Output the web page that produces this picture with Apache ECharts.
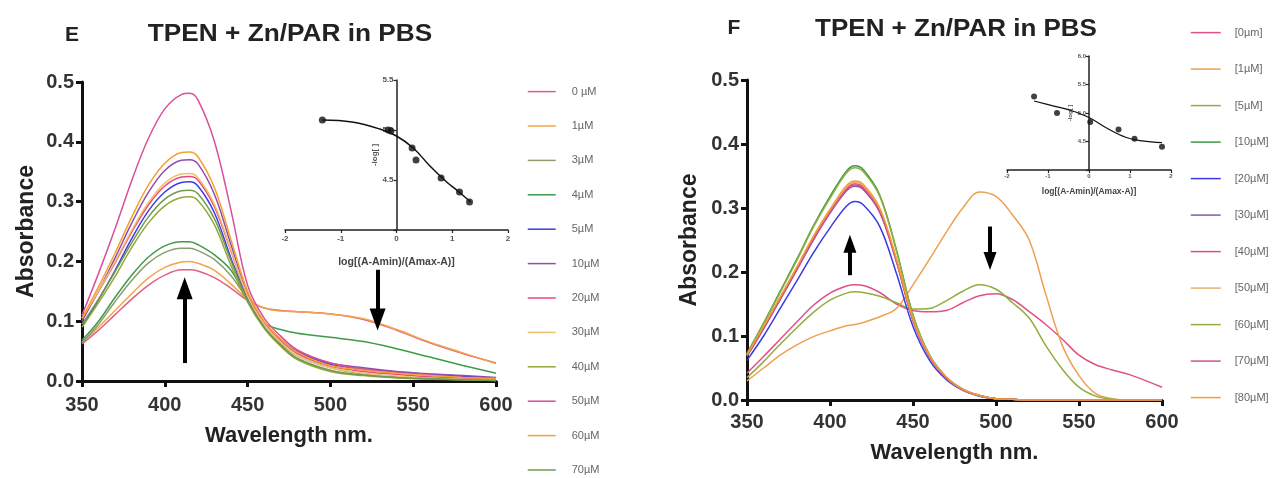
<!DOCTYPE html>
<html>
<head>
<meta charset="utf-8">
<script src="https://cdn.jsdelivr.net/npm/echarts@6/dist/echarts.min.js"></script>
<style>
  html, body { margin: 0; padding: 0; background: #fff; }
  #chart { width: 1284px; height: 478px; }
</style>
</head>
<body>
<div id="chart"></div>
<script>
// ---------------- DATA ----------------
// Panel E (left)
const L_WL = [350,360,370,380,390,400,410,415,420,430,440,450,460,470,480,500,520,540,560,580,600];
const L_NAMES = ['0 µM','1µM','3µM','4µM','5µM','10µM','20µM','30µM','40µM','50µM','60µM','70µM'];
const L_0  = [0.062,0.085,0.111,0.137,0.160,0.177,0.186,0.186,0.184,0.173,0.155,0.135,0.122,0.118,0.116,0.112,0.103,0.085,0.064,0.046,0.030];
const L_1  = [0.065,0.090,0.118,0.146,0.172,0.190,0.199,0.200,0.197,0.185,0.162,0.137,0.122,0.117,0.116,0.112,0.104,0.086,0.065,0.047,0.029];
const L_3  = [0.064,0.095,0.133,0.168,0.197,0.215,0.222,0.222,0.218,0.203,0.176,0.135,0.090,0.062,0.042,0.022,0.012,0.007,0.004,0.002,0.001];
const L_4  = [0.068,0.100,0.140,0.177,0.207,0.226,0.233,0.233,0.228,0.211,0.185,0.136,0.097,0.086,0.080,0.073,0.066,0.054,0.040,0.026,0.013];
const L_5  = [0.090,0.136,0.185,0.238,0.284,0.316,0.332,0.333,0.326,0.281,0.205,0.138,0.095,0.068,0.048,0.028,0.020,0.015,0.011,0.008,0.005];
const L_10 = [0.100,0.151,0.206,0.264,0.315,0.352,0.369,0.370,0.363,0.312,0.228,0.145,0.098,0.070,0.050,0.030,0.022,0.016,0.012,0.009,0.006];
const L_20 = [0.105,0.150,0.198,0.249,0.294,0.326,0.341,0.342,0.336,0.291,0.217,0.142,0.097,0.068,0.046,0.025,0.016,0.011,0.007,0.005,0.003];
const L_30 = [0.105,0.151,0.200,0.252,0.298,0.331,0.346,0.347,0.340,0.295,0.219,0.142,0.095,0.065,0.042,0.022,0.013,0.008,0.005,0.003,0.002];
const L_40 = [0.090,0.131,0.175,0.223,0.264,0.293,0.307,0.308,0.302,0.261,0.193,0.132,0.088,0.058,0.036,0.016,0.009,0.005,0.003,0.002,0.001];
const L_50 = [0.110,0.180,0.255,0.335,0.405,0.455,0.479,0.481,0.470,0.400,0.285,0.160,0.105,0.075,0.052,0.030,0.020,0.014,0.010,0.006,0.004];
const L_60 = [0.105,0.158,0.214,0.274,0.327,0.364,0.382,0.383,0.375,0.323,0.236,0.150,0.100,0.070,0.048,0.026,0.018,0.013,0.009,0.006,0.004];
const L_70 = [0.095,0.137,0.183,0.231,0.274,0.304,0.318,0.319,0.313,0.271,0.201,0.135,0.090,0.060,0.038,0.018,0.010,0.006,0.004,0.002,0.001];
const L_COLORS = ['#e0607f','#f2a54a','#8c9c6c','#3f9a4a','#3c3ce6','#8a4fb0','#e84a78','#f0c070','#92a83a','#d8509c','#f5a030','#6f9a50'];
const L_INSET_X = [-1.33,-0.15,-0.10,0.28,0.35,0.80,1.13,1.31];
const L_INSET_Y = [5.10,5.00,4.99,4.82,4.70,4.52,4.38,4.28];
const L_FIT_X = [-1.33,-0.8,-0.3,0,0.3,0.6,0.9,1.1,1.33];
const L_FIT_Y = [5.10,5.08,5.01,4.94,4.82,4.64,4.48,4.39,4.28];
const L_ARROWS = [[412,0.03,0.155],[528.5,0.186,0.103]];

// Panel F (right)
const R_WL = [350,360,370,380,390,400,410,415,420,430,440,450,460,470,480,490,500,510,520,530,540,550,560,570,580,600];
const R_NAMES = ['[0µm]','[1µM]','[5µM]','[10µM]','[20µM]','[30µM]','[40µM]','[50µM]','[60µM]','[70µM]','[80µM]'];
const R_0  = [0.042,0.068,0.095,0.122,0.148,0.167,0.178,0.180,0.179,0.168,0.150,0.140,0.138,0.140,0.152,0.163,0.166,0.157,0.138,0.118,0.095,0.070,0.055,0.047,0.040,0.020];
const R_1  = [0.030,0.050,0.070,0.086,0.099,0.108,0.116,0.118,0.121,0.130,0.143,0.180,0.220,0.262,0.300,0.325,0.318,0.289,0.250,0.165,0.085,0.038,0.010,0.002,0,0];
const R_5  = [0.035,0.060,0.087,0.113,0.137,0.156,0.167,0.169,0.168,0.162,0.152,0.142,0.143,0.155,0.170,0.180,0.173,0.152,0.128,0.085,0.048,0.020,0.006,0.001,0,0];
const R_10 = [0.073,0.120,0.170,0.220,0.272,0.318,0.358,0.366,0.360,0.320,0.235,0.133,0.070,0.036,0.017,0.007,0.002,0.001,0,0,0,0,0,0,0,0];
const R_20 = [0.062,0.100,0.143,0.186,0.230,0.269,0.303,0.310,0.305,0.271,0.198,0.115,0.062,0.032,0.015,0.006,0.002,0.001,0,0,0,0,0,0,0,0];
const R_30 = [0.068,0.111,0.157,0.203,0.250,0.292,0.327,0.334,0.329,0.293,0.216,0.124,0.067,0.035,0.016,0.007,0.002,0.001,0,0,0,0,0,0,0,0];
const R_40 = [0.070,0.113,0.159,0.205,0.252,0.294,0.331,0.338,0.333,0.296,0.218,0.125,0.068,0.035,0.016,0.007,0.002,0.001,0,0,0,0,0,0,0,0];
const R_50 = [0.071,0.114,0.160,0.206,0.254,0.296,0.333,0.340,0.335,0.298,0.219,0.126,0.068,0.035,0.016,0.007,0.002,0.001,0,0,0,0,0,0,0,0];
const R_60 = [0.072,0.119,0.168,0.218,0.270,0.315,0.355,0.363,0.357,0.318,0.233,0.132,0.070,0.036,0.017,0.007,0.002,0.001,0,0,0,0,0,0,0,0];
const R_70 = [0.069,0.112,0.158,0.204,0.251,0.293,0.329,0.336,0.331,0.294,0.217,0.125,0.067,0.035,0.016,0.007,0.002,0.001,0,0,0,0,0,0,0,0];
const R_80 = [0.071,0.115,0.161,0.208,0.256,0.298,0.335,0.342,0.337,0.300,0.221,0.127,0.069,0.036,0.017,0.007,0.002,0.001,0,0,0,0,0,0,0,0];
const R_COLORS = ['#e0508a','#eea050','#8fae3c','#3c9a48','#3a3ae0','#8a5aa8','#e64a7a','#e8b070','#90b040','#d4508e','#f0a030'];
const R_INSET_X = [-1.34,-0.78,0.03,0.72,1.11,1.78];
const R_INSET_Y = [5.29,5.00,4.84,4.71,4.55,4.41];
const R_FIT_X = [-1.34,-0.9,-0.47,0,0.42,0.91,1.3,1.78];
const R_FIT_Y = [5.21,5.13,5.05,4.92,4.74,4.57,4.51,4.48];
const R_ARROWS = [[412,0.195,0.244],[496.4,0.271,0.217]];

const MAIN_X_TICKS = [350,400,450,500,550,600];
const MAIN_Y_TICKS = [0.0,0.1,0.2,0.3,0.4,0.5];

// ---------------- CHART ----------------
const FONT = '"Liberation Sans", Arial, sans-serif';
const L_SERIES = [L_0,L_1,L_3,L_4,L_5,L_10,L_20,L_30,L_40,L_50,L_60,L_70];
const R_SERIES = [R_0,R_1,R_5,R_10,R_20,R_30,R_40,R_50,R_60,R_70,R_80];
const pairs = (xs, ys) => xs.map((x, i) => [x, ys[i]]);

function mainX(gi, nameGap, margin) {
  return {
    type: 'value', gridIndex: gi, min: MAIN_X_TICKS[0], max: MAIN_X_TICKS[MAIN_X_TICKS.length-1], interval: 50,
    name: 'Wavelength nm.', nameLocation: 'middle', nameGap: nameGap,
    nameTextStyle: { fontFamily: FONT, fontWeight: 'bold', fontSize: 22, color: '#222' },
    axisLine: { onZero: false, lineStyle: { color: '#111', width: 3 } },
    axisTick: { length: 6, lineStyle: { color: '#111', width: 3 } },
    axisLabel: { fontFamily: FONT, fontWeight: 'bold', fontSize: 20, color: '#333', margin: margin },
    splitLine: { show: false }
  };
}
function mainY(gi, nameGap) {
  return {
    type: 'value', gridIndex: gi, min: MAIN_Y_TICKS[0], max: MAIN_Y_TICKS[MAIN_Y_TICKS.length-1], interval: 0.1,
    name: 'Absorbance', nameLocation: 'middle', nameGap: nameGap, nameRotate: 90,
    nameTextStyle: { fontFamily: FONT, fontWeight: 'bold', fontSize: 23, color: '#222' },
    axisLine: { onZero: false, lineStyle: { color: '#111', width: 3 } },
    axisTick: { length: 6, lineStyle: { color: '#111', width: 3 } },
    axisLabel: { fontFamily: FONT, fontWeight: 'bold', fontSize: 20, color: '#333', margin: 8, formatter: v => v.toFixed(1) },
    splitLine: { show: false }
  };
}
function insetX(gi, fs, nameFs, nameGap, margin) {
  return {
    type: 'value', gridIndex: gi, min: -2, max: 2, interval: 1,
    name: 'log[(A-Amin)/(Amax-A)]', nameLocation: 'middle', nameGap: nameGap,
    nameTextStyle: { fontFamily: FONT, fontWeight: 'bold', fontSize: nameFs, color: '#444' },
    axisLine: { onZero: false, lineStyle: { color: '#222', width: 1.5 } },
    axisTick: { length: 3, lineStyle: { color: '#222', width: 1.2 } },
    axisLabel: { fontFamily: FONT, fontWeight: 'bold', fontSize: fs, color: '#555', margin: margin },
    splitLine: { show: false }
  };
}
function insetY(gi, max, fs, nameFs, nameGap, offset) {
  return {
    type: 'value', gridIndex: gi, min: 4.0, max: max, interval: 0.5, offset: offset,
    name: '-log[ ]', nameLocation: 'middle', nameGap: nameGap, nameRotate: 90,
    nameTextStyle: { fontFamily: FONT, fontWeight: 'bold', fontSize: nameFs, color: '#555' },
    axisLine: { onZero: false, lineStyle: { color: '#222', width: 1.5 } },
    axisTick: { length: 3, lineStyle: { color: '#222', width: 1.2 } },
    axisLabel: { fontFamily: FONT, fontWeight: 'bold', fontSize: fs, color: '#555', margin: 3,
      formatter: v => (v <= 4.0 ? '' : v.toFixed(1)) },
    splitLine: { show: false }
  };
}

const series = [];
L_SERIES.forEach((ys, i) => series.push({
  name: L_NAMES[i], type: 'line', xAxisIndex: 0, yAxisIndex: 0, smooth: 0.35, symbol: 'none',
  lineStyle: { color: L_COLORS[i], width: 1.5 }, itemStyle: { color: L_COLORS[i] },
  data: pairs(L_WL, ys)
}));
R_SERIES.forEach((ys, i) => series.push({
  name: R_NAMES[i], type: 'line', xAxisIndex: 2, yAxisIndex: 2, smooth: 0.35, symbol: 'none',
  lineStyle: { color: R_COLORS[i], width: 1.5 }, itemStyle: { color: R_COLORS[i] },
  data: pairs(R_WL, ys)
}));
// insets
series.push({ type: 'line', xAxisIndex: 1, yAxisIndex: 1, smooth: 0.4, symbol: 'none',
  lineStyle: { color: '#111', width: 1.5 }, data: pairs(L_FIT_X, L_FIT_Y) });
series.push({ type: 'scatter', xAxisIndex: 1, yAxisIndex: 1, symbolSize: 7,
  itemStyle: { color: '#111' }, data: pairs(L_INSET_X, L_INSET_Y) });
series.push({ type: 'line', xAxisIndex: 3, yAxisIndex: 3, smooth: 0.4, symbol: 'none',
  lineStyle: { color: '#111', width: 1.2 }, data: pairs(R_FIT_X, R_FIT_Y) });
series.push({ type: 'scatter', xAxisIndex: 3, yAxisIndex: 3, symbolSize: 6,
  itemStyle: { color: '#111' }, data: pairs(R_INSET_X, R_INSET_Y) });
// arrows
function arrowSeries(xi, arrows, size, width) {
  return {
    type: 'line', xAxisIndex: xi, yAxisIndex: xi, data: [],
    markLine: {
      silent: true, animation: false, symbol: ['none', 'triangle'], symbolSize: size,
      label: { show: false },
      lineStyle: { color: '#000', width: width, type: 'solid' },
      emphasis: { disabled: true },
      data: arrows.map(a => [{ coord: [a[0], a[1]] }, { coord: [a[0], a[2]] }])
    }
  };
}
series.push(arrowSeries(0, L_ARROWS, [16, 22], 4));
series.push(arrowSeries(2, R_ARROWS, [13, 18], 4));

const legendCommon = {
  orient: 'vertical', padding: 0, itemHeight: 14, selectedMode: false,
  itemStyle: { opacity: 0 },
  lineStyle: { width: 1.5 }
};

const option = {
  animation: false,
  backgroundColor: '#ffffff',
  textStyle: { fontFamily: FONT },
  graphic: [
    { type: 'text', x: 72, y: 35, style: { text: 'E', font: 'bold 21px ' + FONT, fill: '#222', align: 'center', verticalAlign: 'middle' } },
    { type: 'text', x: 290, y: 35, scaleX: 1.14, style: { text: 'TPEN + Zn/PAR in PBS', font: 'bold 23px ' + FONT, fill: '#222', align: 'center', verticalAlign: 'middle' } },
    { type: 'text', x: 734, y: 28, style: { text: 'F', font: 'bold 21px ' + FONT, fill: '#222', align: 'center', verticalAlign: 'middle' } },
    { type: 'text', x: 956, y: 30, scaleX: 1.13, style: { text: 'TPEN + Zn/PAR in PBS', font: 'bold 23px ' + FONT, fill: '#222', align: 'center', verticalAlign: 'middle' } }
  ],
  legend: [
    Object.assign({}, legendCommon, { data: L_NAMES, left: 527, top: 86, itemWidth: 28, itemGap: 23.2,
      textStyle: { fontFamily: FONT, fontSize: 11, color: '#666', padding: [0, 0, 0, 11] } }),
    Object.assign({}, legendCommon, { data: R_NAMES, left: 1190, top: 27, itemWidth: 30, itemGap: 25.3,
      textStyle: { fontFamily: FONT, fontSize: 11, color: '#666', padding: [0, 0, 0, 9] } })
  ],
  grid: [
    { left: 82, top: 82, width: 414, height: 299 },
    { left: 285, top: 80, width: 223, height: 150 },
    { left: 747, top: 80, width: 415, height: 320 },
    { left: 1007, top: 56, width: 164, height: 114 }
  ],
  xAxis: [ mainX(0, 44, 14), insetX(1, 8, 10.5, 27, 5), mainX(2, 42, 12), insetX(3, 6, 8.5, 17, 3) ],
  yAxis: [ mainY(0, 44), insetY(1, 5.5, 8, 8, 8, -111.5), mainY(2, 46), insetY(3, 6.0, 6, 6, 6, -82) ],
  series: series
};

const chart = echarts.init(document.getElementById('chart'), null, { renderer: 'canvas' });
chart.setOption(option);
</script>
</body>
</html>
